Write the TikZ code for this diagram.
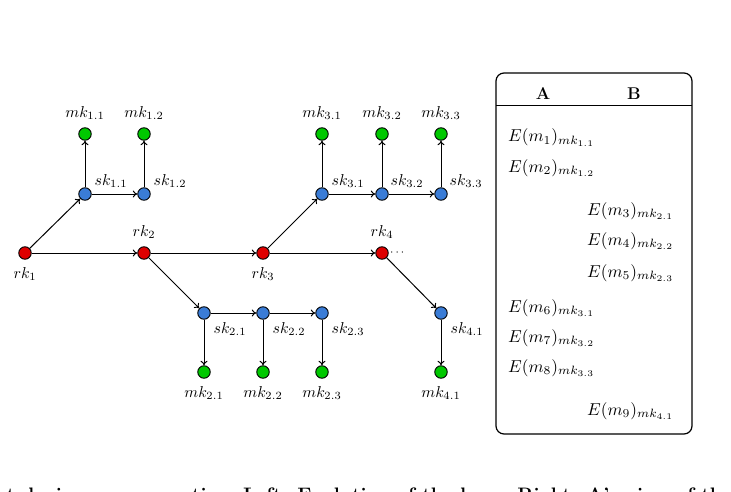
\documentclass[tikz,border=0pt]{standalone}
\usepackage{fix-cm}
\usetikzlibrary{arrows.meta}
\definecolor{rkred}{RGB}{222,0,0}
\definecolor{skblue}{RGB}{58,124,214}
\definecolor{mkgreen}{RGB}{0,200,0}
\newcommand{\lblm}[1]{\scalebox{1.58}{$#1$}}
\newcommand{\entm}[1]{\scalebox{1.72}{$#1$}}
\tikzset{
  keynode/.style={circle,draw=black,line width=0.9pt,inner sep=0pt,minimum size=12.5pt},
  rk/.style={keynode,fill=rkred},
  sk/.style={keynode,fill=skblue},
  mk/.style={keynode,fill=mkgreen},
  conn/.style={line width=1pt,-{To[length=4.5pt,width=7pt]}},
  lbl/.style={inner sep=0pt},
  entry/.style={inner sep=0pt,anchor=base west},
  hdr/.style={inner sep=0pt,anchor=base,font=\fontsize{17}{20}\selectfont\bfseries},
}
\begin{document}
\begin{tikzpicture}[x=1pt,y=-1pt]
\useasboundingbox (0,0) rectangle (731,492);
% key nodes
\node[rk] (rk1) at (25,253) {};
\node[rk] (rk2) at (144,253) {};
\node[rk] (rk3) at (263,253) {};
\node[rk] (rk4) at (382,253) {};
\node[sk] (sk11) at (85,194) {};
\node[sk] (sk12) at (144,194) {};
\node[mk] (mk11) at (85,134) {};
\node[mk] (mk12) at (144,134) {};
\node[sk] (sk21) at (204,313) {};
\node[sk] (sk22) at (263,313) {};
\node[sk] (sk23) at (322,313) {};
\node[mk] (mk21) at (204,372) {};
\node[mk] (mk22) at (263,372) {};
\node[mk] (mk23) at (322,372) {};
\node[sk] (sk31) at (322,194) {};
\node[sk] (sk32) at (382,194) {};
\node[sk] (sk33) at (441,194) {};
\node[mk] (mk31) at (322,134) {};
\node[mk] (mk32) at (382,134) {};
\node[mk] (mk33) at (441,134) {};
\node[sk] (sk41) at (441,313) {};
\node[mk] (mk41) at (441,372) {};
\node[inner sep=0pt,anchor=west] (dots) at (390,253) {\scalebox{1.2}{$\cdots$}};
% connectors
\draw[conn] (rk1) -- (rk2);
\draw[conn] (rk2) -- (rk3);
\draw[conn] (rk3) -- (rk4);
\draw[conn] (rk1) -- (sk11);
\draw[conn] (sk11) -- (sk12);
\draw[conn] (sk11) -- (mk11);
\draw[conn] (sk12) -- (mk12);
\draw[conn] (rk2) -- (sk21);
\draw[conn] (sk21) -- (sk22);
\draw[conn] (sk22) -- (sk23);
\draw[conn] (sk21) -- (mk21);
\draw[conn] (sk22) -- (mk22);
\draw[conn] (sk23) -- (mk23);
\draw[conn] (rk3) -- (sk31);
\draw[conn] (sk31) -- (sk32);
\draw[conn] (sk32) -- (sk33);
\draw[conn] (sk31) -- (mk31);
\draw[conn] (sk32) -- (mk32);
\draw[conn] (sk33) -- (mk33);
\draw[conn] (rk4) -- (sk41);
\draw[conn] (sk41) -- (mk41);
% labels
\node[lbl] (lrk1) at (25,274) {\lblm{rk_1}};
\node[lbl] (lrk2) at (144,232) {\lblm{rk_2}};
\node[lbl] (lrk3) at (263,274) {\lblm{rk_3}};
\node[lbl] (lrk4) at (382,232) {\lblm{rk_4}};
\node[lbl] (lmk11) at (85,113) {\lblm{mk_{1.1}}};
\node[lbl] (lmk12) at (144,113) {\lblm{mk_{1.2}}};
\node[lbl] (lmk31) at (322,113) {\lblm{mk_{3.1}}};
\node[lbl] (lmk32) at (382,113) {\lblm{mk_{3.2}}};
\node[lbl] (lmk33) at (441,113) {\lblm{mk_{3.3}}};
\node[lbl] (lsk11) at (111,181) {\lblm{sk_{1.1}}};
\node[lbl] (lsk12) at (170,181) {\lblm{sk_{1.2}}};
\node[lbl] (lsk31) at (348,181) {\lblm{sk_{3.1}}};
\node[lbl] (lsk32) at (407,181) {\lblm{sk_{3.2}}};
\node[lbl] (lsk33) at (466,181) {\lblm{sk_{3.3}}};
\node[lbl] (lsk21) at (230,329) {\lblm{sk_{2.1}}};
\node[lbl] (lsk22) at (289,329) {\lblm{sk_{2.2}}};
\node[lbl] (lsk23) at (348,329) {\lblm{sk_{2.3}}};
\node[lbl] (lsk41) at (467,329) {\lblm{sk_{4.1}}};
\node[lbl] (lmk21) at (204,393) {\lblm{mk_{2.1}}};
\node[lbl] (lmk22) at (263,393) {\lblm{mk_{2.2}}};
\node[lbl] (lmk23) at (322,393) {\lblm{mk_{2.3}}};
\node[lbl] (lmk41) at (441,393) {\lblm{mk_{4.1}}};
% right box
\draw[line width=1.2pt,rounded corners=8pt] (496,73) rectangle (692,434);
\draw[line width=1.2pt] (496,105.5) -- (692,105.5);
\node[hdr] (hA) at (543,99.5) {A};
\node[hdr] (hB) at (634,99.5) {B};
\node[entry] (e1) at (508,142) {\entm{E(m_1)_{mk_{1.1}}}};
\node[entry] (e2) at (508,172) {\entm{E(m_2)_{mk_{1.2}}}};
\node[entry] (e3) at (587,215) {\entm{E(m_3)_{mk_{2.1}}}};
\node[entry] (e4) at (587,245) {\entm{E(m_4)_{mk_{2.2}}}};
\node[entry] (e5) at (587,277) {\entm{E(m_5)_{mk_{2.3}}}};
\node[entry] (e6) at (508,312) {\entm{E(m_6)_{mk_{3.1}}}};
\node[entry] (e7) at (508,342) {\entm{E(m_7)_{mk_{3.2}}}};
\node[entry] (e8) at (508,372) {\entm{E(m_8)_{mk_{3.3}}}};
\node[entry] (e9) at (587,415) {\entm{E(m_9)_{mk_{4.1}}}};
% caption (cut off at the bottom edge)
\node[inner sep=0pt,anchor=base west,font=\fontsize{19.5}{23}\selectfont\bfseries] (cap) at (243,501)
  {\llap{Key ratchet during a conversation.\ }Left: Evolution of the keys. Right: A's view of the conversation.};
\end{tikzpicture}
\end{document}
